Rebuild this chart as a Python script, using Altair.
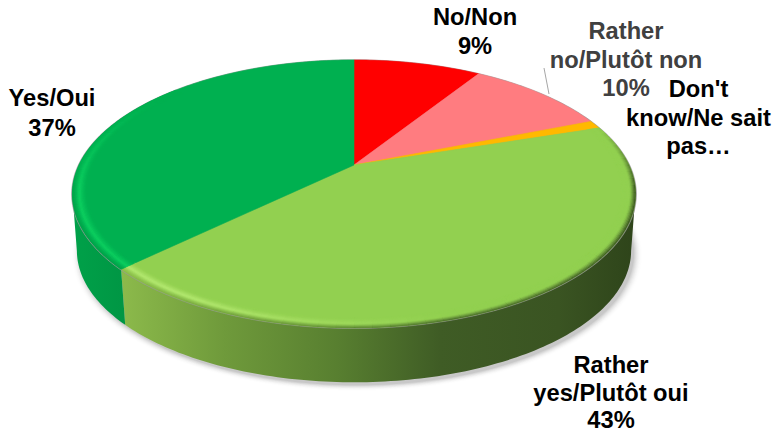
import math
import altair as alt

# ---- data ----
categories = ["No/Non", "Rather no/Plutôt non", "Don't know/Ne sait pas…", "Rather yes/Plutôt oui", "Yes/Oui"]
shares = [9, 10, 1, 42.8, 37.2]
slice_colors = ["#ff0000", "#ff7c80", "#ffb900", "#92d050", "#00b050"]
rim_colors = ["#ff0000", "#ff7c80", "#ffb900", "#b4e870", "#0ccf60"]
wall_stops_rather_yes = [(0, "#8cba4b"), (0.2, "#6f9a3b"), (0.42, "#587f30"),
                         (0.62, "#3f5c25"), (0.85, "#3a5422"), (1, "#2e441a")]
wall_stops_yes = [(0, "#00a149"), (1, "#009644")]

# ---- layout of the tilted disc (page pixels, minus the 8px margin) ----
CX, CY = 354 - 8, 165 - 8
A, B, W = 274.9, 127.7, 0.216
DEPTH = 57.5
FOOT = 0.985


def pt(theta, r=1.0, dx=0.0, dy=0.0):
    t = math.radians(theta)
    u, v = r * math.sin(t), -r * math.cos(t)
    d = 1 - W * v
    return [CX + A * u / d + dx, CY + B * v / d + dy]


def arc(a0, a1, r=1.0, dy=0.0, step=1.0, dx=0.0):
    n = max(2, int(abs(a1 - a0) / step) + 1)
    return [pt(a0 + (a1 - a0) * i / (n - 1), r, dx, dy) for i in range(n)]


def feature(ring, color):
    ring = ring + [ring[0]]
    return {"type": "Feature", "properties": {"c": color},
            "geometry": {"type": "Polygon", "coordinates": [ring]}}


def hexmix(c1, c2, f):
    a = [int(c1[i:i + 2], 16) for i in (1, 3, 5)]
    b = [int(c2[i:i + 2], 16) for i in (1, 3, 5)]
    return "#%02x%02x%02x" % tuple(round(x + (y - x) * f) for x, y in zip(a, b))


def geo(features):
    return alt.InlineData(values={"type": "FeatureCollection", "features": features},
                          format=alt.DataFormat(property="features"))


def clamp(x):
    return max(0.0, min(1.0, x))


cum = [0]
for s in shares:
    cum.append(cum[-1] + s)
edges = [c * 3.6 for c in cum]
RIGHT, LEFT = 102.5, 257.5
SPLIT = edges[4]

# shadow: pale discs under the wall, largest first
shadow = []
for i in range(10):
    f = i / 9
    shadow.append(feature(arc(0, 360, FOOT + 0.03 - 0.03 * f, DEPTH + 3, 2, 3),
                          hexmix("#ffffff", "#c8c8c8", f * f)))
# hairline round the top face
outline = [feature(arc(0, 360, 1.003, 0, 1), "#969696")]

# top face
tops = [feature([[CX, CY]] + arc(edges[i], edges[i + 1]), slice_colors[i])
        for i in range(len(shares))]


def wall_colour(theta):
    if theta >= SPLIT:
        return wall_stops_yes[0][1]
    x = pt(theta)[0]
    x0, x1 = pt(SPLIT)[0], pt(RIGHT)[0]
    f = clamp((x - x0) / (x1 - x0))
    for (o0, c0), (o1, c1) in zip(wall_stops_rather_yes, wall_stops_rather_yes[1:]):
        if f <= o1:
            return hexmix(c0, c1, (f - o0) / (o1 - o0))
    return wall_stops_rather_yes[-1][1]


# soft rim: highlight just inside the front edge, blending into the wall at the edge
BANDS = 12
RIM = 0.05
SEG = 3.0
bevel = []
START, STOP = edges[3], 312.0
th = START
while th < STOP:
    end = min(th + SEG, STOP)
    if th < SPLIT:
        end = min(end, SPLIT)
    mid = (th + end) / 2
    idx = 3 if mid < SPLIT else 4
    if idx == 3:
        glow = clamp((mid - 165) / 45)
    else:
        glow = clamp((305 - mid) / 45)
    blend = min(clamp((mid - START) / 28), clamp((272 - mid) / 14))
    wc = wall_colour(mid)
    for j in range(BANDS):
        s0, s1 = j / BANDS, (j + 1) / BANDS
        s = (s0 + s1) / 2  # 0 at the edge, 1 at the inner side
        h = clamp(1 - abs(s - 0.5) / 0.5) ** 1.3 * glow
        col = hexmix(slice_colors[idx], rim_colors[idx], h)
        e = clamp(1 - s / 0.42) ** 1.2 * blend * 0.95
        col = hexmix(col, wc, e)
        bevel.append(feature(arc(th, end, 1 - RIM * s1, 0, 1) + arc(end, th, 1 - RIM * s0, 0, 1), col))
    th = end

wall_rather_yes = [feature(arc(RIGHT, SPLIT) + arc(SPLIT, RIGHT, FOOT, DEPTH), "#000000")]
wall_yes = [feature(arc(SPLIT, LEFT) + arc(LEFT, SPLIT, FOOT, DEPTH), "#000000")]

proj = dict(type="identity", scale=1, translate=[0, 0])


def polys(features, sw=0.6):
    return alt.Chart(geo(features)).mark_geoshape(strokeWidth=sw).encode(
        color=alt.Color("properties.c:N", scale=None, legend=None),
        stroke=alt.Stroke("properties.c:N", scale=None, legend=None),
    ).project(**proj)


def grad(stops):
    return alt.Gradient(gradient="linear", x1=0, x2=1, y1=0, y2=0,
                        stops=[alt.GradientStop(color=c, offset=o) for o, c in stops])


wall1 = alt.Chart(geo(wall_rather_yes)).mark_geoshape(
    fill=grad(wall_stops_rather_yes), strokeWidth=0).project(**proj)
wall2 = alt.Chart(geo(wall_yes)).mark_geoshape(
    fill=grad(wall_stops_yes), strokeWidth=0).project(**proj)

leader = alt.Chart(alt.Data(values=[{"k": 1}])).mark_rule(color="#a6a6a6", strokeWidth=1).encode(
    x=alt.value(544 - 8), x2=alt.value(549 - 8), y=alt.value(68 - 8), y2=alt.value(94 - 8))


def label(lines, x, y, color="#000000", lh=28.5):
    return alt.Chart(alt.Data(values=[{"t": "\n".join(lines)}])).mark_text(
        font="Liberation Sans", fontWeight="bold", fontSize=23.7, align="center",
        baseline="middle", lineBreak="\n", lineHeight=lh, color=color,
    ).encode(x=alt.value(x - 8), y=alt.value(y - 8), text="t:N")


labels = [
    label(["No/Non", "9%"], 475, 18, lh=29),
    label(["Rather", "no/Plutôt non", "10%"], 626, 32, "#404040"),
    label(["Don't", "know/Ne sait", "pas…"], 698.5, 90),
    label(["Rather", "yes/Plutôt oui", "43%"], 611, 366, lh=27.5),
    label(["Yes/Oui", "37%"], 52, 99, lh=30),
]

chart = alt.layer(
    polys(shadow, 0), wall1, wall2, polys(outline, 0.5), polys(tops), polys(bevel),
    leader, *labels,
).properties(width=764, height=425, padding=0, background="white",
             autosize=alt.AutoSizeParams(type="none")).configure_view(stroke=None)

chart.save("out.html", embed_options={"renderer": "svg", "actions": False})
